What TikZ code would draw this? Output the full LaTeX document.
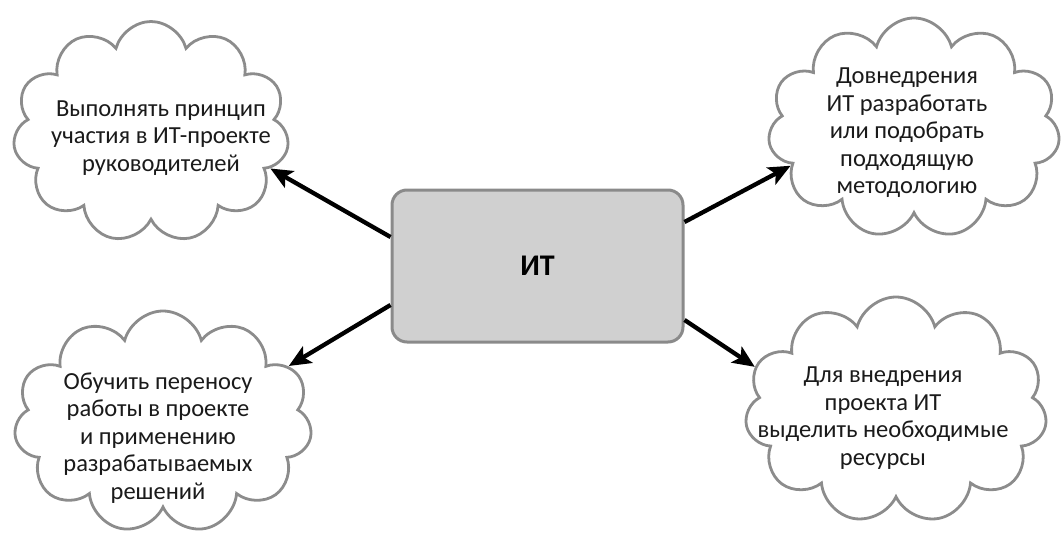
\documentclass[tikz,border=0pt]{standalone}
\usepackage{fontspec}
\setmainfont{Carlito}
\usetikzlibrary{shapes.symbols,arrows.meta}
\definecolor{cloudgray}{HTML}{8C8C8C}
\definecolor{boxfill}{HTML}{D0D0D0}
\definecolor{boxdraw}{HTML}{8A8A8A}
\definecolor{txt}{HTML}{1A1A1A}
\begin{document}
\begin{tikzpicture}[x=1pt,y=-1pt,
  cloudbox/.style={cloud, cloud puffs=11, cloud ignores aspect, draw=cloudgray, line width=2.8pt, fill=white, inner sep=0pt},
  cloudtext/.style={align=center, font=\fontsize{24.5}{27.5}\selectfont, text=txt, inner sep=0pt},
  centerbox/.style={draw=boxdraw, fill=boxfill, line width=3pt, rounded corners=15pt, minimum width=291pt, minimum height=152pt, font=\fontsize{30}{32}\selectfont\bfseries, text=black},
  arr/.style={line width=4.3pt, -{Stealth[length=22pt,width=19pt,inset=5pt]}}]
\useasboundingbox (0,0) rectangle (1061,535);
\node[centerbox] (it) at (537.5,266) {ИТ};
\node[cloudbox, minimum width=276pt, minimum height=221pt] (c1) at (151,132) {};
\node[cloudtext] (t1) at (161,138) {Выполнять принцип\\участия в ИТ-проекте\\руководителей};
\node[cloudbox, minimum width=298pt, minimum height=222pt] (c2) at (163,422) {};
\node[cloudtext] (t2) at (158,438) {Обучить переносу\\работы в проекте\\и применению\\разрабатываемых\\решений};
\node[cloudbox, minimum width=292pt, minimum height=220pt] (c3) at (914,128) {};
\node[cloudtext] (t3) at (907,133) {Довнедрения\\ИТ разработать\\или подобрать\\подходящую\\методологию};
\node[cloudbox, minimum width=302pt, minimum height=226pt] (c4) at (896,410) {};
\node[cloudtext] (t4) at (883,418) {Для внедрения\\проекта ИТ\\выделить необходимые\\ресурсы};
\draw[arr] ([yshift=29pt]it.west) -- (c1.-17);
\draw[arr] ([yshift=-39pt]it.west) -- (c2.24);
\draw[arr] ([yshift=44pt]it.east) -- (c3.-163);
\draw[arr] ([yshift=-54pt]it.east) -- (c4.163);
\end{tikzpicture}
\end{document}
